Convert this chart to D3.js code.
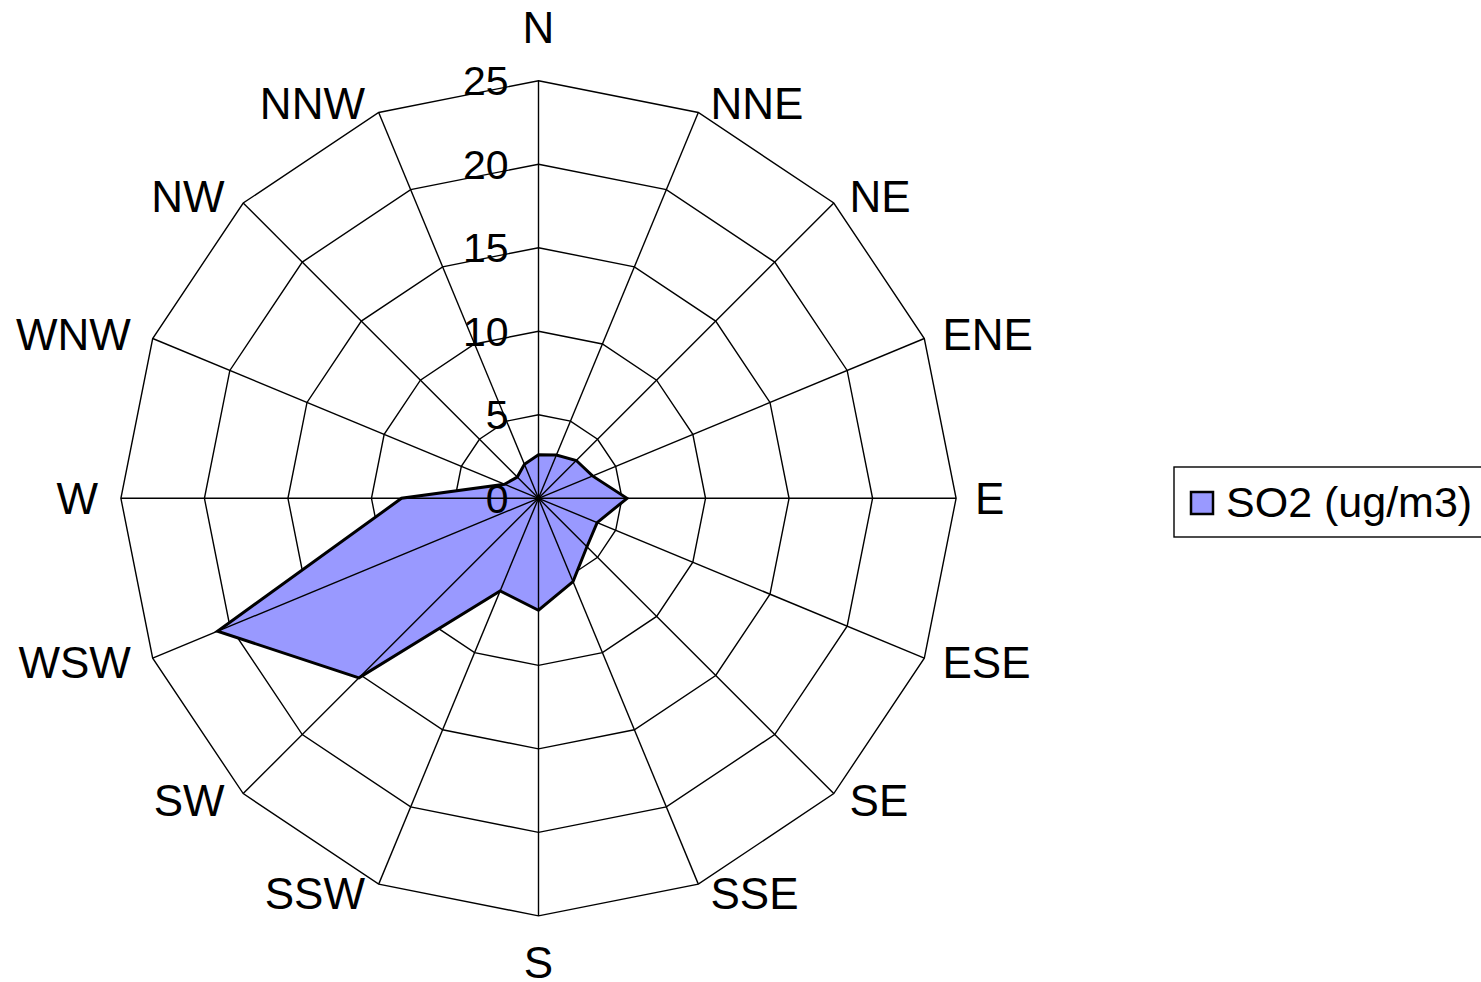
<!DOCTYPE html>
<html>
<head>
<meta charset="utf-8">
<script src="https://cdn.jsdelivr.net/npm/d3@7/dist/d3.min.js"></script>
<style>
  html, body { margin: 0; padding: 0; background: #fff; }
  svg { display: block; }
  text { font-family: Arial, "Liberation Sans", sans-serif; fill: #000; }
</style>
</head>
<body>
<svg id="chart" width="1481" height="982"></svg>
<script>
// Wind directions, clockwise from north
const directions = ["N", "NNE", "NE", "ENE", "E", "ESE", "SE", "SSE",
                    "S", "SSW", "SW", "WSW", "W", "WNW", "NW", "NNW"];
// Mean SO2 concentration per direction
const so2Values = [2.6, 2.8, 3.2, 3.5, 5.3, 3.8, 4.1, 5.4,
                   6.7, 6.0, 15.2, 20.8, 8.2, 2.2, 1.8, 2.2];
// Radial axis ticks
const tickValues = [0, 5, 10, 15, 20, 25];
const seriesName = "SO2 (ug/m3)";

const svg = d3.select("#chart");
const cx = 538.5, cy = 498.3, R = 417.6;
const n = directions.length;

const r = d3.scaleLinear().domain([0, 25]).range([0, R]);
const angle = d3.scaleLinear().domain([0, n]).range([0, 2 * Math.PI]);

const g = svg.append("g").attr("transform", `translate(${cx},${cy})`);

const ringLine = d3.lineRadial()
  .angle((d, i) => angle(i))
  .radius(d => r(d))
  .curve(d3.curveLinearClosed);

// Concentric polygon gridlines
g.append("g").selectAll("path")
  .data(tickValues.filter(v => v > 0))
  .join("path")
  .attr("d", v => ringLine(directions.map(() => v)))
  .attr("fill", "none")
  .attr("stroke", "#000")
  .attr("stroke-width", 1.4);

// Data polygon
g.append("path")
  .attr("d", ringLine(so2Values))
  .attr("fill", "#9999FF")
  .attr("stroke", "none");

// Spokes
g.append("g").selectAll("line")
  .data(directions)
  .join("line")
  .attr("x1", 0).attr("y1", 0)
  .attr("x2", (d, i) => r(25) * Math.sin(angle(i)))
  .attr("y2", (d, i) => -r(25) * Math.cos(angle(i)))
  .attr("stroke", "#000")
  .attr("stroke-width", 1.4);

// Data outline
g.append("path")
  .attr("d", ringLine(so2Values))
  .attr("fill", "none")
  .attr("stroke", "#000")
  .attr("stroke-width", 3)
  .attr("stroke-linejoin", "miter");

// Radial tick labels
const tickSize = 41;
g.append("g").selectAll("text")
  .data(tickValues)
  .join("text")
  .attr("x", -30)
  .attr("y", v => -r(v) + tickSize * 0.358)
  .attr("text-anchor", "end")
  .attr("font-size", tickSize)
  .text(v => v);

// Direction labels
const labelSize = 44;
g.append("g").selectAll("text")
  .data(directions)
  .join("text")
  .each(function (d, i) {
    const a = angle(i);
    const s = Math.sin(a), c = Math.cos(a);
    const vx = r(25) * s, vy = -r(25) * c;
    const t = d3.select(this);
    let x, yc, anchor;
    if (Math.abs(s) < 0.01) {
      x = vx; yc = vy + (c > 0 ? -53 : 46); anchor = "middle";
    } else {
      const gap = s > 0 ? 8 + 11 * s : -(8 + 15 * -s);
      x = vx + gap; yc = vy - c * 10;
      anchor = s > 0 ? "start" : "end";
    }
    t.attr("x", x).attr("y", yc + labelSize * 0.358)
     .attr("text-anchor", anchor)
     .attr("font-size", labelSize)
     .text(d);
  });

// Legend
const legend = svg.append("g").attr("transform", "translate(1174,467)");
legend.append("rect")
  .attr("x", 0).attr("y", 0).attr("width", 330).attr("height", 70)
  .attr("fill", "#fff").attr("stroke", "#000").attr("stroke-width", 1.4);
legend.append("rect")
  .attr("x", 17).attr("y", 25).attr("width", 22).attr("height", 22)
  .attr("fill", "#9999FF").attr("stroke", "#000").attr("stroke-width", 2.5);
legend.append("text")
  .attr("x", 52).attr("y", 35 + 43 * 0.358)
  .attr("font-size", 43)
  .text(seriesName);
</script>
</body>
</html>
